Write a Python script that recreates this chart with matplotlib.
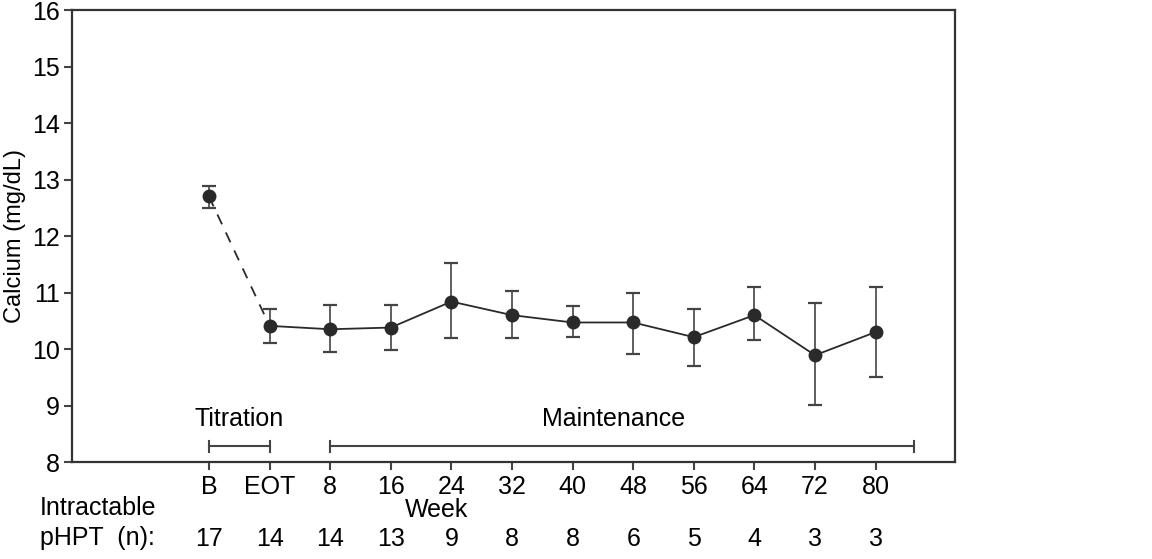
import matplotlib.pyplot as plt
import numpy as np

plt.rcParams["font.family"] = ["Liberation Sans", "DejaVu Sans"]

# data
visits = ["B", "EOT", "8", "16", "24", "32", "40", "48", "56", "64", "72", "80"]
n_patients = [17, 14, 14, 13, 9, 8, 8, 6, 5, 4, 3, 3]
calcium = [12.70, 10.41, 10.35, 10.38, 10.84, 10.60, 10.47, 10.47, 10.21, 10.60, 9.89, 10.30]
err_low = [12.50, 10.11, 9.95, 9.98, 10.20, 10.20, 10.22, 9.92, 9.70, 10.16, 9.01, 9.51]
err_high = [12.88, 10.71, 10.78, 10.78, 11.52, 11.03, 10.77, 11.00, 10.71, 11.10, 10.81, 11.10]

ink = "#2a2a2a"
fs = 18

fig = plt.figure(figsize=(11.52, 5.59), dpi=100)
ax = fig.add_axes([0.0625, 0.1735, 0.7665, 0.8085])

x = np.arange(len(visits))
y = np.array(calcium)
yerr = [y - np.array(err_low), np.array(err_high) - y]

ax.errorbar(x, y, yerr=yerr, fmt="none", ecolor="#444444", elinewidth=1.2,
            capsize=5, capthick=1.6, zorder=2)
ax.plot(x[:2], y[:2], color=ink, lw=1.3, ls=(0, (6, 5)), zorder=3)
ax.plot(x[1:], y[1:], color=ink, lw=1.3, zorder=3)
ax.plot(x, y, "o", color=ink, ms=9, zorder=4)

# phase brackets
br_y = 8.28
ax.plot([0, 1], [br_y, br_y], color="#444444", lw=1.5)
ax.plot([2, 11.64], [br_y, br_y], color="#444444", lw=1.5)
for xe in [0, 1, 2, 11.64]:
    ax.plot([xe, xe], [br_y - 0.1, br_y + 0.1], color="#444444", lw=1.5)
ax.text(0.5, 8.55, "Titration", ha="center", va="bottom", fontsize=fs, color="black")
ax.text(6.67, 8.55, "Maintenance", ha="center", va="bottom", fontsize=fs, color="black")

ax.set_xlim(-2.26, 12.31)
ax.set_ylim(8, 16)
ax.set_yticks(range(8, 17))
ax.set_xticks(x)
ax.set_xticklabels(visits)
ax.tick_params(axis="both", direction="out", length=6, width=1.5, color="#444444",
               labelsize=fs, pad=3)
for sp in ax.spines.values():
    sp.set_linewidth(1.6)
    sp.set_color("#333333")

# y label placed directly in figure pixels
fig.text(15 / 1152, 1 - 236 / 559, "Calcium (mg/dL)", rotation=90, ha="center",
         va="center", fontsize=17)

# week label and n row
ax.text(3.76, -0.107, "Week", transform=ax.get_xaxis_transform(), ha="center",
        va="center", fontsize=fs)
for xi, n in zip(x, n_patients):
    ax.text(xi, -0.17, str(n), transform=ax.get_xaxis_transform(), ha="center",
            va="center", fontsize=fs)
fig.text(40 / 1152, 1 - 508 / 559, "Intractable", ha="left", va="center", fontsize=fs)
fig.text(40 / 1152, 1 - 538 / 559, "pHPT  (n):", ha="left", va="center", fontsize=fs)

fig.savefig("out.png", dpi=100)
